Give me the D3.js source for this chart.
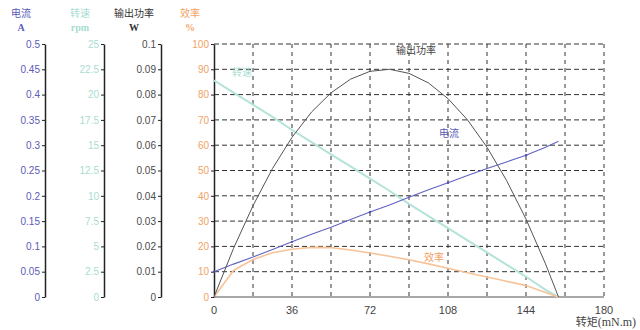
<!DOCTYPE html>
<html>
<head>
<meta charset="utf-8">
<script src="https://cdnjs.cloudflare.com/ajax/libs/d3/7.8.5/d3.min.js"></script>
<style>
    body { margin: 0; background: #fff; }
    text { font-family: "Liberation Sans", Arial, sans-serif; }
    .serif { font-family: "Liberation Serif", "Times New Roman", serif; }
    .cjk { font-family: "Noto Sans CJK SC", sans-serif; }
</style>
</head>
<body>
<div id="chart"></div>
<script>
var torque = [0, 9, 18, 27, 36, 45, 54, 63, 72, 81, 90, 99, 108, 117, 126, 135, 144, 153, 159];
var current = [0.050, 0.065, 0.079, 0.094, 0.109, 0.124, 0.138, 0.153, 0.168, 0.182, 0.197, 0.212, 0.226, 0.240, 0.254, 0.267, 0.280, 0.296, 0.308];
var speed = [21.4, 20.2, 19.0, 17.8, 16.5, 15.3, 14.1, 12.9, 11.7, 10.5, 9.2, 8.0, 6.8, 5.6, 4.4, 3.2, 2.0, 0.7, 0];
var power = [0, 0.0192, 0.0361, 0.0508, 0.0631, 0.0731, 0.0807, 0.0861, 0.0892, 0.0900, 0.0884, 0.0846, 0.0784, 0.0700, 0.0592, 0.0461, 0.0308, 0.0131, 0];
var efficiency = [0, 10.5, 14.8, 17.5, 18.9, 19.6, 19.5, 18.6, 17.4, 16.1, 14.7, 13.1, 11.4, 9.6, 7.9, 6.2, 4.5, 1.8, 0];

var xTicks = [0, 36, 72, 108, 144, 180];
var xGrid = [18, 36, 54, 72, 90, 108, 126, 144, 162, 180];
var currentTicks = [0, 0.05, 0.1, 0.15, 0.2, 0.25, 0.3, 0.35, 0.4, 0.45, 0.5];
var speedTicks = [0, 2.5, 5, 7.5, 10, 12.5, 15, 17.5, 20, 22.5, 25];
var powerTicks = [0, 0.01, 0.02, 0.03, 0.04, 0.05, 0.06, 0.07, 0.08, 0.09, 0.1];
var effTicks = [0, 10, 20, 30, 40, 50, 60, 70, 80, 90, 100];

var w = 640, h = 330;
var plotTop = 44, plotBottom = 297, plotLeft = 214, plotRight = 604;

var cBlue = "#5b5bb8", cTeal = "#a9ddd2", cGray = "#4a4a4a", cOrange = "#f2a266";

var svg = d3.select("#chart").append("svg")
    .attr("width", w)
    .attr("height", h);

var x = d3.scaleLinear().domain([0, 180]).range([plotLeft, plotRight]);
var yEff = d3.scaleLinear().domain([0, 100]).range([plotBottom, plotTop]);
var yCur = d3.scaleLinear().domain([0, 0.5]).range([plotBottom, plotTop]);
var ySpd = d3.scaleLinear().domain([0, 25]).range([plotBottom, plotTop]);
var yPow = d3.scaleLinear().domain([0, 0.1]).range([plotBottom, plotTop]);

// grid
svg.append("g").selectAll("line")
    .data(effTicks.slice(1))
    .enter().append("line")
    .attr("x1", plotLeft).attr("x2", plotRight)
    .attr("y1", function (d) { return yEff(d); })
    .attr("y2", function (d) { return yEff(d); })
    .style("stroke", "#333").style("stroke-width", 1)
    .style("stroke-dasharray", "5,3");

svg.append("g").selectAll("line")
    .data(xGrid)
    .enter().append("line")
    .attr("x1", function (d) { return x(d); })
    .attr("x2", function (d) { return x(d); })
    .attr("y1", plotTop).attr("y2", plotBottom + 3)
    .style("stroke", "#333").style("stroke-width", 1)
    .style("stroke-dasharray", "4,4");

// x axis
svg.append("line")
    .attr("x1", plotLeft).attr("x2", plotRight)
    .attr("y1", plotBottom).attr("y2", plotBottom)
    .style("stroke", "#a8a8a8").style("stroke-width", 2);

svg.append("g").selectAll("text")
    .data(xTicks)
    .enter().append("text")
    .attr("x", function (d) { return x(d); })
    .attr("y", plotBottom + 17)
    .attr("text-anchor", "middle")
    .style("font-size", "11px")
    .style("fill", "#444")
    .text(function (d) { return d; });

svg.append("text")
    .attr("x", 636).attr("y", 326)
    .attr("text-anchor", "end")
    .style("font-size", "11px")
    .style("fill", "#444")
    .html('<tspan class="cjk">转矩</tspan><tspan class="serif" style="font-size:12px">(mN.m)</tspan>');

// left axes
function drawAxis(scale, ticks, xpos, color, fmt) {
    var g = svg.append("g")
        .attr("transform", "translate(" + xpos + ",0)")
        .call(d3.axisLeft(scale).tickValues(ticks).tickSize(3).tickPadding(2)
            .tickSizeOuter(0).tickFormat(fmt));
    g.select(".domain").style("stroke", "#222").style("stroke-width", 1.5);
    g.selectAll(".tick line").style("stroke", "#222");
    g.selectAll(".tick text")
        .style("fill", color)
        .style("font-size", "10px")
        .style("font-family", "Liberation Sans, Arial, sans-serif");
    return g;
}

var num = function (d) { return String(+d.toFixed(3)); };
drawAxis(yCur, currentTicks, 45, cBlue, num);
drawAxis(ySpd, speedTicks, 104, cTeal, num);
drawAxis(yPow, powerTicks, 161, cGray, num);
drawAxis(yEff, effTicks, plotLeft, cOrange, num);

// headers
var headers = [
    {t: "电流", u: "A", x: 21, c: cBlue},
    {t: "转速", u: "rpm", x: 80, c: cTeal},
    {t: "输出功率", u: "W", x: 134, c: "#333"},
    {t: "效率", u: "%", x: 190, c: cOrange}
];
headers.forEach(function (d) {
    svg.append("text")
        .attr("class", "cjk")
        .attr("x", d.x).attr("y", 17)
        .attr("text-anchor", "middle")
        .style("font-size", "10px")
        .style("fill", d.c)
        .text(d.t);
    svg.append("text")
        .attr("class", "serif")
        .attr("x", d.x).attr("y", 31)
        .attr("text-anchor", "middle")
        .style("font-size", "10px")
        .style("font-weight", "bold")
        .style("fill", d.c)
        .text(d.u);
});

// curves
function drawLine(values, scale, color, width) {
    var line = d3.line()
        .x(function (d, i) { return x(torque[i]); })
        .y(function (d) { return scale(d); });
    svg.append("path")
        .datum(values)
        .attr("d", line)
        .style("fill", "none")
        .style("stroke", color)
        .style("stroke-width", width);
}

drawLine(speed, ySpd, "#b4e3d9", 2);
drawLine(efficiency, yEff, "#f7c398", 1.6);
drawLine(current, yCur, "#6262c4", 1.1);
drawLine(power, yPow, "#555", 1);

svg.append("g").selectAll("circle")
    .data(current.filter(function (d, i) { return i % 4 === 0; }))
    .enter().append("circle")
    .attr("cx", function (d, i) { return x(torque[i * 4]); })
    .attr("cy", function (d) { return yCur(d); })
    .attr("r", 1.2)
    .style("fill", "#5050b0");

// curve labels
var labels = [
    {t: "转速", x: 242, y: 76, c: cTeal},
    {t: "输出功率", x: 416, y: 54, c: "#444"},
    {t: "电流", x: 449, y: 137, c: cBlue},
    {t: "效率", x: 434, y: 261, c: cOrange}
];
svg.append("g").selectAll("text")
    .data(labels)
    .enter().append("text")
    .attr("class", "cjk")
    .attr("x", function (d) { return d.x; })
    .attr("y", function (d) { return d.y; })
    .attr("text-anchor", "middle")
    .style("font-size", "10px")
    .style("fill", function (d) { return d.c; })
    .text(function (d) { return d.t; });
</script>
</body>
</html>
